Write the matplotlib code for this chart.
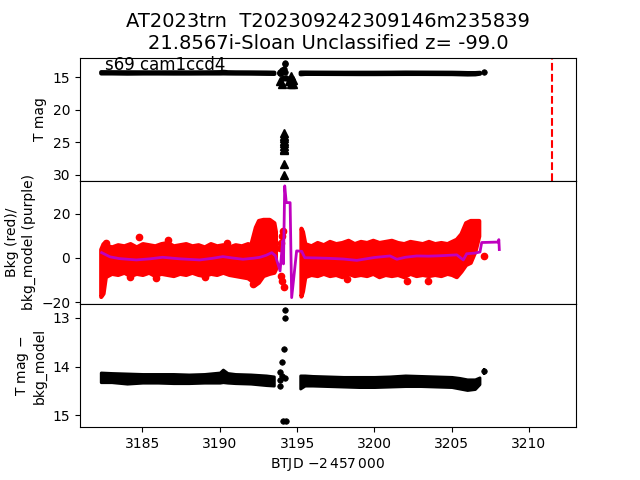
import matplotlib
matplotlib.use('Agg')
import matplotlib.pyplot as plt

# ---- light curve (T mag - bkg_model), dense band read as envelopes ----
seg1_t = [3182.3, 3183.0, 3184.0, 3185.0, 3186.0, 3187.0, 3188.0, 3189.0,
          3190.0, 3190.2, 3190.5, 3191.0, 3192.0, 3193.0, 3193.5]
seg1_hi = [14.12, 14.13, 14.14, 14.15, 14.15, 14.15, 14.16, 14.15,
           14.12, 14.06, 14.13, 14.15, 14.16, 14.18, 14.20]
seg1_lo = [14.32, 14.32, 14.35, 14.33, 14.33, 14.34, 14.34, 14.33,
           14.33, 14.32, 14.33, 14.34, 14.35, 14.38, 14.39]

seg2_t = [3195.2, 3195.5, 3196.0, 3197.0, 3198.0, 3199.0, 3200.0, 3201.0,
          3202.0, 3203.0, 3204.0, 3205.0, 3205.5, 3206.0, 3206.5, 3206.8]
seg2_hi = [14.18, 14.18, 14.19, 14.20, 14.21, 14.21, 14.21, 14.20,
           14.18, 14.19, 14.20, 14.21, 14.23, 14.26, 14.26, 14.22]
seg2_lo = [14.45, 14.39, 14.39, 14.40, 14.41, 14.42, 14.42, 14.41,
           14.40, 14.40, 14.41, 14.42, 14.45, 14.48, 14.46, 14.36]

# scattered points near the gap
gap_t = [3194.22, 3194.20, 3194.14, 3194.03, 3193.90, 3194.00, 3193.92,
         3194.20, 3193.90, 3194.10, 3194.28]
gap_mag = [12.84, 13.01, 13.64, 13.91, 14.12, 14.19, 14.27, 14.23, 14.40,
           15.11, 15.11]

last_t = [3207.1]
last_mag = [14.10]
last_err = [0.07]

# upper limits (triangles) in the top panel
lim_t = [3193.92, 3194.02, 3194.50, 3194.60, 3194.60, 3194.62, 3194.72,
         3194.72, 3194.17, 3194.17, 3194.17, 3194.17, 3194.17, 3194.17,
         3194.17, 3194.17, 3194.17, 3194.17]
lim_mag = [15.6, 16.1, 15.6, 14.85, 15.5, 16.0, 15.4, 16.0,
           23.6, 24.0, 24.4, 24.8, 25.2, 25.6, 26.0, 26.2, 28.4, 30.1]

disc_t = 3211.5

# ---- background (red) band envelopes ----
bkg1_t = [3182.30, 3182.45, 3182.6, 3183.0, 3183.4, 3183.8, 3184.2, 3184.6,
          3185.0, 3185.4, 3185.8, 3186.2, 3186.6, 3187.0, 3187.4, 3187.8,
          3188.2, 3188.6, 3189.0, 3189.4, 3189.8, 3190.2, 3190.6, 3191.0,
          3191.4, 3191.8, 3192.0, 3192.3, 3192.5, 3192.8, 3193.2, 3193.5,
          3193.6]
bkg1_hi = [4.0, 6.5, 6.0, 5.0, 6.0, 5.5, 6.5, 5.0,
           6.5, 6.0, 5.5, 6.5, 7.0, 5.5, 6.0, 6.5,
           5.5, 6.0, 5.0, 6.5, 5.5, 6.0, 5.0, 6.0,
           5.5, 6.5, 6.0, 14.0, 17.0, 17.5, 17.5, 16.0,
           12.0]
bkg1_lo = [-17.5, -16.0, -8.5, -7.0, -7.5, -6.5, -8.0, -7.0,
           -7.5, -6.5, -8.0, -7.0, -7.5, -8.0, -7.0, -7.5,
           -6.5, -7.5, -8.0, -7.0, -7.5, -6.5, -7.5, -8.0,
           -8.5, -9.0, -10.0, -12.0, -11.0, -8.0, -7.0, -6.5,
           -5.0]

bkg2_t = [3195.25, 3195.35, 3195.5, 3195.9, 3196.3, 3196.7, 3197.1, 3197.5,
          3197.9, 3198.3, 3198.7, 3199.1, 3199.5, 3199.9, 3200.3, 3200.7,
          3201.1, 3201.5, 3201.9, 3202.3, 3202.7, 3203.1, 3203.5, 3203.9,
          3204.3, 3204.7, 3205.0, 3205.3, 3205.6, 3205.9, 3206.2, 3206.5,
          3206.75]
bkg2_hi = [13.5, 12.0, 6.5, 5.5, 7.0, 6.0, 7.5, 6.5,
           7.0, 8.0, 6.5, 7.5, 7.0, 8.0, 7.0, 7.5,
           8.0, 7.0, 6.5, 7.5, 7.0, 6.5, 7.5, 6.5,
           7.0, 6.5, 7.5, 8.5, 11.0, 16.0, 17.0, 17.0,
           17.0]
bkg2_lo = [-17.3, -15.0, -8.5, -7.5, -8.0, -7.0, -8.0, -7.5,
           -8.5, -7.0, -8.0, -7.5, -8.0, -7.0, -8.5, -7.5,
           -8.0, -7.5, -8.5, -7.0, -8.0, -7.5, -8.0, -7.5,
           -8.0, -7.0, -7.5, -8.5, -6.0, -3.0, -2.0, 3.0,
           10.0]

bkg_pt_t = [3182.64, 3184.8, 3186.67, 3190.45, 3184.2, 3185.9, 3189.05,
            3192.17, 3194.11, 3194.00, 3193.94, 3193.92, 3193.94, 3194.00,
            3194.17, 3198.2, 3202.09, 3203.5, 3207.1]
bkg_pt_v = [7.0, 9.5, 8.0, 7.0, -8.5, -9.0, -8.5,
            -12.0, 12.3, 10.0, 7.0, 4.5, -8.2, -10.5,
            -13.2, -9.5, -10.5, -10.5, 0.8]

# ---- background model (purple) ----
model_t = [3182.36, 3182.9, 3183.5, 3184.6, 3185.5, 3186.3, 3187.4, 3188.7,
           3189.5, 3190.2, 3190.8, 3191.5, 3192.2, 3192.6, 3193.0, 3193.36,
           3193.6, 3193.9, 3194.07, 3194.12, 3194.2, 3194.3, 3194.55, 3194.65,
           3194.97, 3195.3, 3195.5, 3196.2, 3197.13, 3198.0, 3198.86, 3200.0,
           3201.01, 3201.45, 3202.0, 3202.74, 3203.5, 3204.3, 3205.33, 3205.75,
           3205.97, 3206.5, 3206.83, 3206.94, 3208.0, 3208.05, 3208.08]
model_v = [2.4, 0.5, -0.3, -0.9, -0.4, 0.3, -0.4, -0.9,
           -0.2, 0.6, 0.0, -0.6, -0.1, 0.3, 1.2, 2.4,
           1.0, -5.9, 7.7, -2.7, 32.7, 25.1, 25.1, -18.0,
           3.2, 3.0, 0.1, 0.0, -0.2, -0.5, -1.1, 0.2,
           0.9, -0.6, 0.3, 0.9, 0.8, 1.0, 1.4, -0.9,
           1.9, 2.2, 2.7, 7.0, 7.2, 8.3, 3.8]

title = 'AT2023trn  T202309242309146m235839\n21.8567i-Sloan Unclassified z= -99.0'

fig, axes = plt.subplots(3, 1, figsize=(6.4, 4.8), sharex=True)
fig.subplots_adjust(hspace=0)
ax1, ax2, ax3 = axes

# top: T mag
for t, hi, lo in [(seg1_t, seg1_hi, seg1_lo), (seg2_t, seg2_hi, seg2_lo)]:
    ax1.fill_between(t, hi, lo, color='k', lw=3)
ax1.plot(gap_t, gap_mag, 'ko', ms=4, mew=0.5)
ax1.plot(last_t, last_mag, 'ko', ms=4, mew=0.5)
ax1.plot(lim_t, lim_mag, 'k^', ms=6)
ax1.axvline(disc_t, color='r', ls='--', lw=1.5)
ax1.set_ylim(30.97, 11.95)
ax1.set_yticks([15, 20, 25, 30])
ax1.set_ylabel('T mag')
ax1.set_title(title, fontsize=14)
ax1.text(0.05, 0.9, 's69 cam1ccd4', transform=ax1.transAxes, fontsize=12)

# middle: background
for t, hi, lo in [(bkg1_t, bkg1_hi, bkg1_lo), (bkg2_t, bkg2_hi, bkg2_lo)]:
    ax2.fill_between(t, lo, hi, color='r', lw=3)
ax2.plot(bkg_pt_t, bkg_pt_v, 'ro', ms=4.5)
ax2.plot(model_t, model_v, color='m', lw=2)
ax2.set_ylim(-20.9, 35.0)
ax2.set_yticks([-20, 0, 20])
ax2.set_ylabel('Bkg (red)/\nbkg_model (purple)')

# bottom: T mag - bkg_model
for t, hi, lo in [(seg1_t, seg1_hi, seg1_lo), (seg2_t, seg2_hi, seg2_lo)]:
    ax3.fill_between(t, hi, lo, color='k', lw=2)
ax3.plot(gap_t, gap_mag, 'ko', ms=4, mew=0.5)
ax3.errorbar(last_t, last_mag, yerr=last_err, fmt='ko', ms=4, mew=0.5)
ax3.set_ylim(15.24, 12.72)
ax3.set_yticks([13, 14, 15])
ax3.set_ylabel('T mag $-$\nbkg_model')
ax3.set_xlim(3180.96, 3213.04)
ax3.set_xticks([3185, 3190, 3195, 3200, 3205, 3210])
ax3.set_xlabel(r'BTJD $-2\,457\,000$')

for ax in (ax1, ax2):
    ax.tick_params(axis='x', bottom=False, labelbottom=False)

plt.savefig('out.png', dpi=100)
